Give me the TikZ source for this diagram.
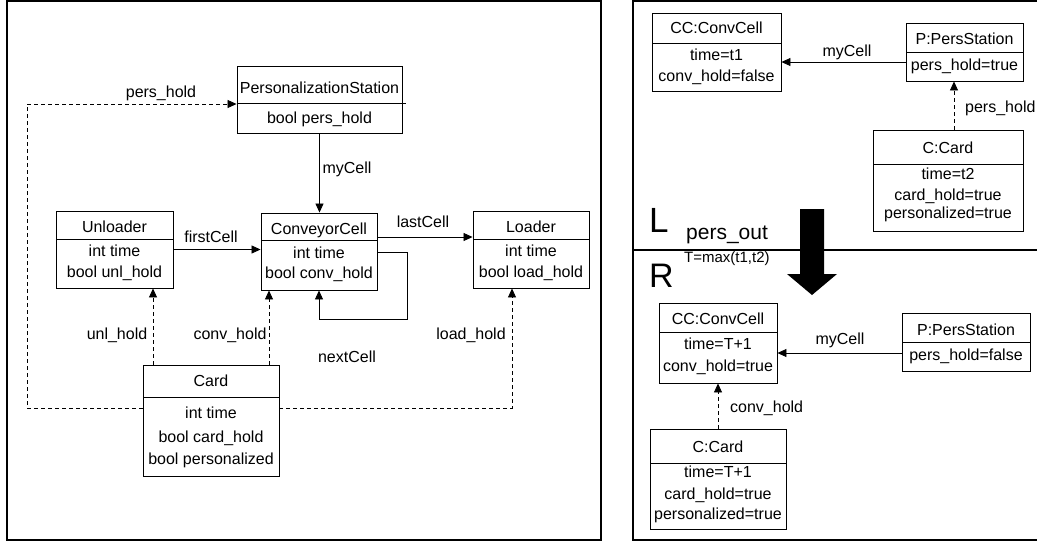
\documentclass[tikz,border=0pt]{standalone}
\usepackage{fontspec}
\setmainfont{Liberation Sans}
\usetikzlibrary{arrows.meta,fit}
\tikzset{
  box/.style={draw, line width=0.9pt, inner sep=0pt, fit={#1}},
  div/.style={line width=0.9pt},
  txt/.style={anchor=base, inner sep=0pt, font=\fontsize{16}{18}\selectfont},
  wtxt/.style={txt, anchor=base west},
  conn/.style={line width=0.8pt, -{Triangle[length=9pt,width=8pt]}},
  dconn/.style={conn, dash pattern=on 4pt off 3pt},
  frame/.style={line width=1.2pt},
}
\begin{document}
\begin{tikzpicture}[x=1pt,y=-1pt]
\useasboundingbox (0,0) rectangle (1037,542);
% frames
\draw[frame] (7,1) rectangle (601,540);
\draw[frame] (633,1) rectangle (1045,540);
\draw[frame] (633,250) -- (1040,250);

% ===== left: class diagram =====
\node[box={(237,66) (402,133)}] (ps) {};
\draw[div] (237,103) -- (406,103);
\node[txt] (psT) at (319.5,93) {PersonalizationStation};
\node[txt] (psA) at (319.5,123) {bool pers\_hold};

\node[box={(56,211) (173,288)}] (ul) {};
\draw[div] (56,239) -- (173,239);
\node[txt] (ulT) at (114.5,232) {Unloader};
\node[txt] (ulA1) at (114.5,256) {int time};
\node[txt] (ulA2) at (114.5,277) {bool unl\_hold};

\node[box={(261,213) (377,290)}] (cc) {};
\draw[div] (261,240) -- (377,240);
\node[txt] (ccT) at (319,234) {ConveyorCell};
\node[txt] (ccA1) at (319,258) {int time};
\node[txt] (ccA2) at (319,278) {bool conv\_hold};

\node[box={(473,211) (589,288)}] (ld) {};
\draw[div] (473,239) -- (589,239);
\node[txt] (ldT) at (531,232) {Loader};
\node[txt] (ldA1) at (531,256) {int time};
\node[txt] (ldA2) at (531,277) {bool load\_hold};

\node[box={(143,365) (279,476)}] (card) {};
\draw[div] (143,397) -- (279,397);
\node[txt] (cdT) at (211,386) {Card};
\node[txt] (cdA1) at (211,418) {int time};
\node[txt] (cdA2) at (211,442) {bool card\_hold};
\node[txt] (cdA3) at (211,464) {bool personalized};

% connectors
\draw[conn] (ps.south) -- (ps.south |- cc.north);
\node[txt] (lmy) at (347,173) {myCell};
\draw[conn] (ul.east) -- (ul.east -| cc.west);
\node[txt] (lfirst) at (211,242) {firstCell};
\draw[conn] (cc.east |- 0,237) -- (ld.west |- 0,237);
\node[txt] (llast) at (423,227) {lastCell};
\draw[conn] (cc.east |- 0,252) -- (407,252) -- (407,319) -- (319,319) -- (cc.south);
\node[txt] (lnext) at (347,362) {nextCell};
\draw[dconn] (card.north -| 153,0) -- (ul.south -| 153,0);
\node[txt] (lunl) at (117,339) {unl\_hold};
\draw[dconn] (card.north -| 269,0) -- (cc.south -| 269,0);
\node[txt] (lconv) at (230,339) {conv\_hold};
\draw[dconn] (card.east |- 0,408) -- (512,408) -- (ld.south -| 512,0);
\node[txt] (lload) at (471,339) {load\_hold};
\draw[dconn] (card.west |- 0,408) -- (27,408) -- (27,104) -- (ps.west |- 0,104);
\node[txt] (lpers) at (161,97) {pers\_hold};

% ===== right top: L =====
\node[box={(652,13) (781,91)}] (ccL) {};
\draw[div] (652,43) -- (781,43);
\node[txt] (ccLT) at (716.5,33) {CC:ConvCell};
\node[txt] (ccLA1) at (716.5,60) {time=t1};
\node[txt] (ccLA2) at (716.5,81) {conv\_hold=false};

\node[box={(906,23) (1023,81)}] (pL) {};
\draw[div] (906,52) -- (1023,52);
\node[txt] (pLT) at (964.5,44) {P:PersStation};
\node[txt] (pLA) at (964.5,70) {pers\_hold=true};

\node[box={(873,130) (1023,231)}] (cL) {};
\draw[div] (873,164) -- (1023,164);
\node[txt] (cLT) at (948,153) {C:Card};
\node[txt] (cLA1) at (948,179) {time=t2};
\node[txt] (cLA2) at (948,200) {card\_hold=true};
\node[txt] (cLA3) at (948,218) {personalized=true};

\draw[conn] (pL.west |- 0,62) -- (ccL.east |- 0,62);
\node[txt] (rmy1) at (847,56) {myCell};
\draw[dconn] (cL.north -| 954,0) -- (pL.south -| 954,0);
\node[wtxt] (rpers) at (965,112) {pers\_hold};

\node[anchor=base west, inner sep=0pt, font=\fontsize{35}{35}\selectfont] (Ltag) at (649,232) {L};
\node[anchor=base west, inner sep=0pt, font=\fontsize{21}{21}\selectfont] (rule) at (686,239) {pers\_out};
\node[anchor=base west, inner sep=0pt, font=\fontsize{34}{34}\selectfont] (Rtag) at (649,287) {R};
\node[anchor=base west, inner sep=0pt, font=\fontsize{15}{15}\selectfont] (cond) at (684,262) {T=max(t1,t2)};

\fill (800,209) -- (824,209) -- (824,274) -- (837,274) -- (812,295) -- (787,274) -- (800,274) -- cycle;

% ===== right bottom: R =====
\node[box={(659,303) (777,383)}] (ccR) {};
\draw[div] (659,332) -- (777,332);
\node[txt] (ccRT) at (718,324) {CC:ConvCell};
\node[txt] (ccRA1) at (718,349) {time=T+1};
\node[txt] (ccRA2) at (718,371) {conv\_hold=true};

\node[box={(902,313) (1030,371)}] (pR) {};
\draw[div] (902,342) -- (1030,342);
\node[txt] (pRT) at (966,335) {P:PersStation};
\node[txt] (pRA) at (966,360) {pers\_hold=false};

\node[box={(650,429) (786,529)}] (cR) {};
\draw[div] (650,463) -- (786,463);
\node[txt] (cRT) at (718,452) {C:Card};
\node[txt] (cRA1) at (718,477) {time=T+1};
\node[txt] (cRA2) at (718,499) {card\_hold=true};
\node[txt] (cRA3) at (718,519) {personalized=true};

\draw[conn] (pR.west |- 0,353) -- (ccR.east |- 0,353);
\node[txt] (rmy2) at (840,344) {myCell};
\draw[dconn] (cR.north -| 718,0) -- (ccR.south -| 718,0);
\node[wtxt] (rconv) at (730,412) {conv\_hold};
\end{tikzpicture}
\end{document}
